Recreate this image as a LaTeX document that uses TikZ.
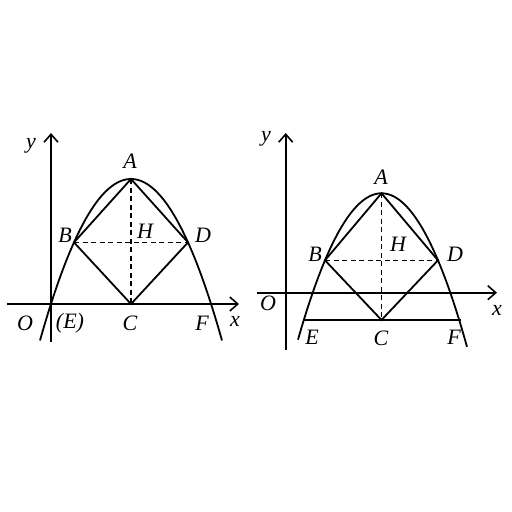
\documentclass[tikz,border=0pt]{standalone}
\usepackage{fontspec}
\setmainfont{Liberation Serif}
\usetikzlibrary{arrows.meta}
\begin{document}
\begin{tikzpicture}[x=1pt,y=-1pt, line width=1.8pt,
 lbl/.style={font=\fontsize{22}{22}\selectfont\itshape, inner sep=0pt},
 axis/.style={-{Straight Barb[length=8pt,width=14pt,line width=1.6pt]}},
 dsh/.style={line width=1.5pt, dash pattern=on 5pt off 3.5pt}]
\useasboundingbox (0,0) rectangle (512,512);
% ---------- left figure ----------
\coordinate (yb1) at (51,342);
\coordinate (yt1) at (51,133);
\coordinate (xl1) at (7,304);
\coordinate (xr1) at (239,304);
\coordinate (A1) at (131,179);
\coordinate (B1) at (74,242.4);
\coordinate (D1) at (188,242.4);
\coordinate (H1) at (131,242.4);
\coordinate (C1) at (131,304);
\draw[axis] (yb1) -- (yt1);
\draw[axis] (xl1) -- (xr1);
\draw plot[domain=40:222,samples=120,smooth] (\x,{179+0.0195*(\x-131)^2});
\draw (A1) -- (B1) -- (C1) -- (D1) -- cycle;
\draw[dsh] (A1) -- (C1);
\draw[dsh] (B1) -- (D1);
\node[lbl] (ly1) at (31,146) {y};
\node[lbl] (lA1) at (130,161) {A};
\node[lbl] (lB1) at (65,235) {B};
\node[lbl] (lH1) at (145,231) {H};
\node[lbl] (lD1) at (203,235) {D};
\node[lbl] (lO1) at (25,323) {O};
\node[lbl] (lE1) at (70,323) {(E)};
\node[lbl] (lC1) at (130,323) {C};
\node[lbl] (lF1) at (202,323) {F};
\node[lbl] (lx1) at (235,321) {x};
% ---------- right figure ----------
\coordinate (yb2) at (285.7,350);
\coordinate (yt2) at (285.7,133);
\coordinate (xl2) at (257,292.7);
\coordinate (xr2) at (497,292.7);
\coordinate (A2) at (381.5,193.3);
\coordinate (B2) at (325,260.3);
\coordinate (D2) at (438,260.3);
\coordinate (H2) at (381.5,260.3);
\coordinate (C2) at (381.5,320);
\coordinate (E2) at (304,320);
\coordinate (F2) at (461,320);
\draw[axis] (yb2) -- (yt2);
\draw[axis] (xl2) -- (xr2);
\draw plot[domain=298:467,samples=120,smooth] (\x,{193.3+0.021*(\x-381.5)^2});
\draw (A2) -- (B2) -- (C2) -- (D2) -- cycle;
\draw (E2) -- (C2) -- (F2);
\draw[dsh] (A2) -- (C2);
\draw[dsh] (B2) -- (D2);
\node[lbl] (ly2) at (266,139) {y};
\node[lbl] (lA2) at (381,177) {A};
\node[lbl] (lB2) at (315,254) {B};
\node[lbl] (lH2) at (398,244) {H};
\node[lbl] (lD2) at (455,254) {D};
\node[lbl] (lO2) at (268,303) {O};
\node[lbl] (lx2) at (497,310) {x};
\node[lbl] (lE2) at (312,337) {E};
\node[lbl] (lC2) at (381,338) {C};
\node[lbl] (lF2) at (454,337) {F};
\end{tikzpicture}
\end{document}
